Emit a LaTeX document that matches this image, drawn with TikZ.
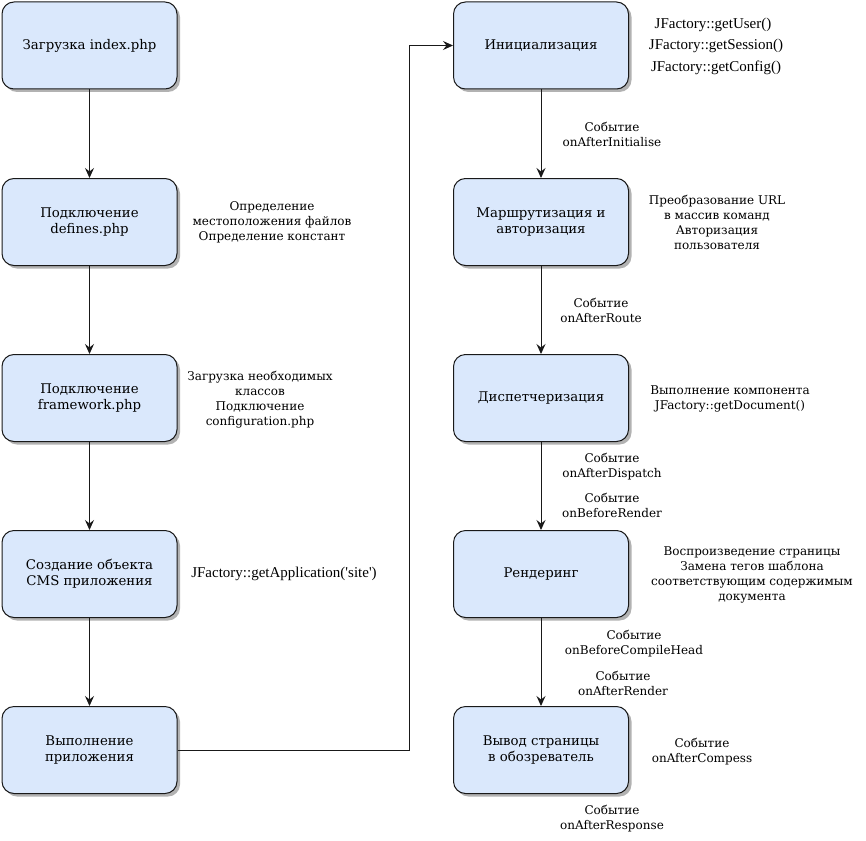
\documentclass[tikz,border=0pt]{standalone}
\usepackage{fontspec}
\setmainfont{DejaVu Serif}
\newfontfamily\timesf{Liberation Serif}
\usetikzlibrary{arrows.meta,shadows}
\begin{document}
\begin{tikzpicture}[x=1pt,y=-1pt,
  box/.style={draw=black!90,line width=1pt,fill={rgb,255:red,218;green,232;blue,252},rounded corners=12pt,minimum width=175pt,minimum height=87pt,align=center,inner sep=2pt,
    font=\fontsize{13.3pt}{16pt}\selectfont,
    drop shadow={shadow xshift=3pt,shadow yshift=-3pt,fill=black!30,opacity=1}},
  lbl/.style={align=center,inner sep=0pt},
  tlbl/.style={inner sep=0pt,font=\timesf\fontsize{15pt}{18pt}\selectfont},
  arr/.style={draw=black!90,line width=1pt,-{Stealth[length=10pt,width=9pt,inset=3.5pt]}},
  font=\fontsize{12pt}{15pt}\selectfont]
\useasboundingbox (0,0) rectangle (866,840);
% left column
\node[box] (b1) at (89.5,45.5) {Загрузка index.php};
\node[box] (b2) at (89.5,222) {Подключение\\defines.php};
\node[box] (b3) at (89.5,398) {Подключение\\framework.php};
\node[box] (b4) at (89.5,574) {Создание объекта\\CMS приложения};
\node[box] (b5) at (89.5,750) {Выполнение\\приложения};
% right column
\node[box] (r1) at (541,45.5) {Инициализация};
\node[box] (r2) at (541,222) {Маршрутизация и\\авторизация};
\node[box] (r3) at (541,398) {Диспетчеризация};
\node[box] (r4) at (541,574) {Рендеринг};
\node[box] (r5) at (541,750) {Вывод страницы\\в обозреватель};
% connectors
\draw[arr] (b1) -- (b2);
\draw[arr] (b2) -- (b3);
\draw[arr] (b3) -- (b4);
\draw[arr] (b4) -- (b5);
\coordinate (turn) at (409,0);
\draw[arr] (b5.east) -- (b5.east -| turn) |- (r1.west);
\draw[arr] (r1) -- (r2);
\draw[arr] (r2) -- (r3);
\draw[arr] (r3) -- (r4);
\draw[arr] (r4) -- (r5);
% annotations
\node[lbl] (t1) at (272,222) {Определение\\местоположения файлов\\Определение констант};
\node[lbl] (t2) at (260,399.5) {Загрузка необходимых\\классов\\Подключение\\configuration.php};
\node[tlbl] (t3) at (284,574) {JFactory::getApplication('site')};
\node[tlbl] (t4) at (713,25) {JFactory::getUser()};
\node[tlbl] (t5) at (716,46) {JFactory::getSession()};
\node[tlbl] (t6) at (716,68) {JFactory::getConfig()};
\node[lbl] (t7) at (612,134.5) {Событие\\onAfterInitialise};
\node[lbl] (t8) at (717,222.5) {Преобразование URL\\в массив команд\\Авторизация\\пользователя};
\node[lbl] (t9) at (601,310.5) {Событие\\onAfterRoute};
\node[lbl] (t10) at (730,399) {Выполнение компонента\\JFactory::getDocument()};
\node[lbl] (t11) at (612,466.5) {Событие\\onAfterDispatch};
\node[lbl] (t12) at (612,505.5) {Событие\\onBeforeRender};
\node[lbl] (t13) at (752,575) {Воспроизведение страницы\\Замена тегов шаблона\\соответствующим содержимым\\документа};
\node[lbl] (t14) at (634,643.5) {Событие\\onBeforeCompileHead};
\node[lbl] (t15) at (623,683) {Событие\\onAfterRender};
\node[lbl] (t16) at (702,752) {Событие\\onAfterCompess};
\node[lbl] (t17) at (612,818.5) {Событие\\onAfterResponse};
\end{tikzpicture}
\end{document}
